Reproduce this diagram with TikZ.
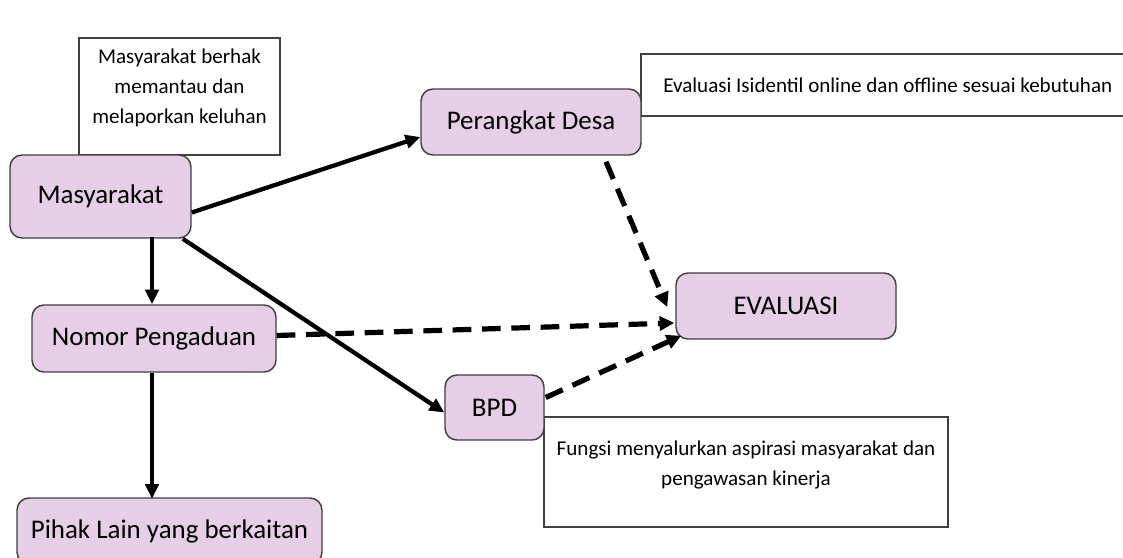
\documentclass[tikz,border=0pt]{standalone}
\usepackage{fontspec}
\setmainfont{Carlito}
\usetikzlibrary{arrows.meta,calc}
\definecolor{boxfill}{RGB}{230,206,230}
\definecolor{boxline}{RGB}{64,64,64}
\begin{document}
\begin{tikzpicture}[x=0.75pt,y=-0.75pt,
  unit/.style={draw=boxline, fill=boxfill, line width=1.1pt, rounded corners=9pt,
    inner sep=0pt, font=\fontsize{20.2}{24}\selectfont},
  notebox/.style={draw=boxline, line width=1.1pt, fill=white, inner sep=0pt},
  notetext/.style={font=\fontsize{15.8}{22.5}\selectfont, align=center, inner sep=0pt},
  flow/.style={line width=3.2pt, -{Triangle[length=11pt,width=10pt]}},
  dflow/.style={line width=3.9pt, dash pattern=on 14pt off 8pt,
    -{Triangle[length=11pt,width=10.5pt]}},
]
\clip (0,0) rectangle (1123,557);
\fill[white] (0,0) rectangle (1123,557);

% explanatory notes
\node[notebox, minimum width={201*0.75pt}, minimum height={117*0.75pt}] (noteAbox) at (179.5,96.5) {};
\node[notetext] (noteA) at (179.5,88) {Masyarakat berhak\\memantau dan\\melaporkan keluhan};

\node[notebox, minimum width={499*0.75pt}, minimum height={62*0.75pt}] (noteBbox) at (890.5,85) {};
\node[notetext, anchor=west] (noteB) at (663,85) {Evaluasi Isidentil online dan offline sesuai kebutuhan};

\node[notebox, minimum width={404*0.75pt}, minimum height={110*0.75pt}] (noteCbox) at (746,472) {};
\node[notetext] (noteC) at (746,465) {Fungsi menyalurkan aspirasi masyarakat dan\\pengawasan kinerja};

% actors and stages
\node[unit, minimum width={181*0.75pt}, minimum height={83*0.75pt}] (mas) at (100.5,196.5) {Masyarakat};
\node[unit, minimum width={220*0.75pt}, minimum height={66*0.75pt}] (per) at (531,122) {Perangkat Desa};
\node[unit, minimum width={220*0.75pt}, minimum height={66*0.75pt}] (eva) at (786,306) {EVALUASI};
\node[unit, minimum width={244*0.75pt}, minimum height={67*0.75pt}] (nom) at (154,338.5) {Nomor Pengaduan};
\node[unit, minimum width={99*0.75pt}, minimum height={65*0.75pt}] (bpd) at (494.5,407.5) {BPD};
\node[unit, minimum width={305*0.75pt}, minimum height={66*0.75pt}] (pih) at (169.5,531) {Pihak Lain yang berkaitan};

% reporting channels
\draw[flow] ($(mas.east)+(0,16)$) -- ($(per.west)+(0,15)$);
\draw[flow] ($(nom.north)+(-2,-67)$) -- ($(nom.north)+(-2,0)$);
\draw[flow] ($(mas.south east)+(-9,0)$) -- ($(bpd.west)+(0,5)$);
\draw[flow] ($(nom.south)+(-2,0)$) -- ($(nom.south)+(-2,126)$);

% evaluation feedback
\draw[dflow] ($(per.south)+(75,6)$) -- ($(eva.west)+(-8,1)$);
\draw[dflow] ($(nom.east)+(0,-3)$) -- ($(eva.west)+(-1,17)$);
\draw[dflow] ($(bpd.east)+(1,-10)$) -- ($(eva.south west)+(6,-4)$);
\end{tikzpicture}
\end{document}
